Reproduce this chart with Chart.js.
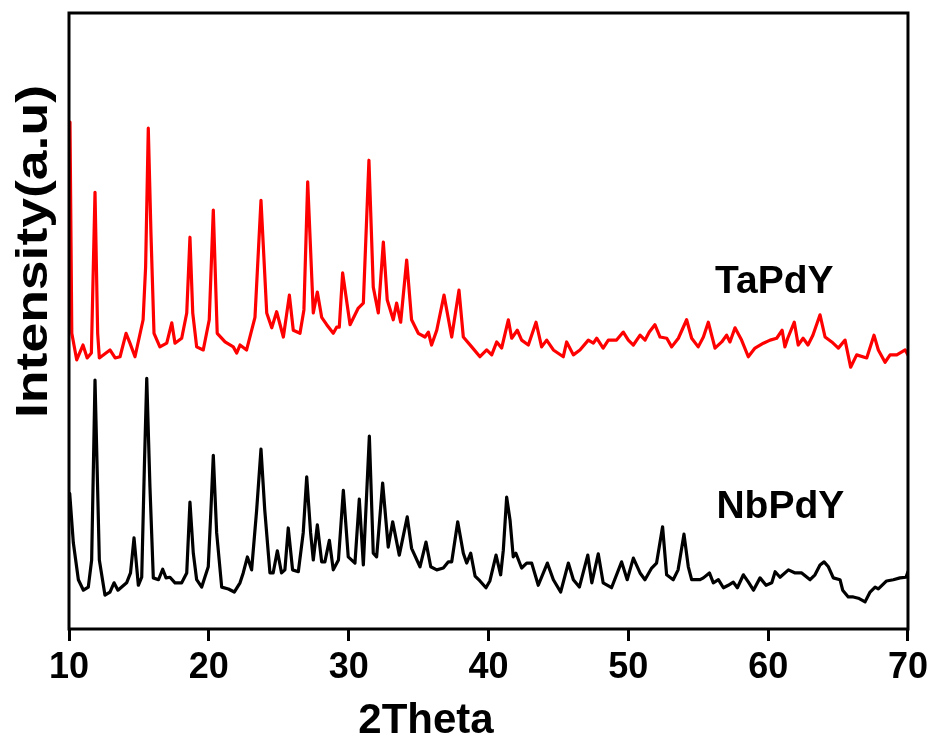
<!DOCTYPE html>
<html>
<head>
<meta charset="utf-8">
<script src="https://cdn.jsdelivr.net/npm/chart.js@4/dist/chart.umd.min.js"></script>
<style>
  html, body { margin: 0; padding: 0; background: #fff; }
  #wrap { width: 933px; height: 738px; }
</style>
</head>
<body>
<div id="wrap"><canvas id="xrd" width="933" height="738"></canvas></div>
<script>
// x ticks
const thetaTicks = [10, 20, 30, 40, 50, 60, 70];

// TaPdY (red, upper trace)
const taTheta = [10.07, 10.2, 10.55, 11.0, 11.3, 11.6, 11.86, 12.05, 12.17, 12.93, 13.3, 13.65, 14.08, 14.36, 14.72,
  15.3, 15.48, 15.67, 15.86, 16.08, 16.5, 16.99, 17.35, 17.58, 18.06, 18.42, 18.65, 18.85, 19.13, 19.6, 20.03,
  20.32, 20.6, 21.16, 21.75, 21.99, 22.23, 22.7, 23.3, 23.73, 24.14, 24.5, 24.85, 25.33, 25.76, 26.04, 26.52,
  26.8, 27.07, 27.47, 27.76, 28.07, 28.43, 28.9, 29.14, 29.33, 29.57, 30.1, 30.69, 31.05, 31.45, 31.76, 32.12,
  32.48, 32.76, 33.19, 33.43, 33.72, 34.15, 34.5, 34.98, 35.46, 35.7, 35.93, 36.3, 36.82, 37.37, 37.89, 38.2,
  38.8, 39.39, 39.87, 40.23, 40.59, 40.94, 41.42, 41.66, 42.06, 42.37, 42.85, 43.4, 43.8, 44.16, 44.64, 45.35,
  45.59, 46.07, 46.54, 47.14, 47.5, 47.74, 48.2, 48.57, 49.16, 49.64, 50.0, 50.36, 50.84, 51.2, 51.5, 51.9,
  52.27, 52.75, 53.1, 53.58, 54.17, 54.53, 55.0, 55.37, 55.72, 56.2, 56.68, 57.03, 57.27, 57.63, 58.1, 58.58,
  59.06, 59.66, 60.14, 60.61, 61.0, 61.2, 61.4, 61.87, 62.15, 62.5, 62.85, 63.2, 63.71, 64.07, 64.55, 65.02,
  65.5, 65.9, 66.33, 67.05, 67.57, 67.88, 68.36, 68.72, 69.2, 69.8, 70.0];
const taIntensity = [82.3, 48, 43.7, 46.1, 44, 44.8, 70.9, 48, 44, 45.3, 44, 44.2, 48, 46.4, 44.2,
  50.2, 58.8, 81.3, 64.3, 48, 45.8, 46.4, 49.7, 46.4, 47.2, 51.3, 63.6, 51.3, 45.8, 45.3, 50.2,
  68, 48, 46.6, 45.8, 44.8, 46.1, 45.3, 50.6, 69.6, 51.3, 48.9, 51.5, 47.4, 54.2, 48.5, 48,
  51.8, 72.6, 51.3, 54.7, 50.6, 49.4, 48, 49, 49, 57.8, 49.4, 52.1, 52.9, 76.1, 55.5, 51.3,
  62.8, 53.4, 50.2, 52.9, 49.8, 59.9, 50.2, 48, 47.4, 48.2, 46.1, 48.5, 54.2, 47.4, 55, 47.4,
  45.8, 44.2, 45.3, 44.5, 46.6, 45.6, 50.2, 47.2, 48.5, 46.9, 46.1, 49.8, 45.8, 46.9, 45.3, 44.2,
  46.6, 44.5, 45.3, 46.9, 46.4, 47.2, 45.6, 46.9, 46.9, 48.2, 46.9, 46.1, 47.7, 46.9, 48.2, 49.4,
  47.4, 47.2, 45.8, 47.2, 50.2, 47.2, 45.8, 47.4, 49.8, 45.6, 46.6, 47.7, 46.6, 48.9, 46.9, 44.2,
  45.6, 46.4, 46.9, 47.2, 48.5, 45.8, 47.2, 49.8, 46.1, 47.2, 46.1, 47.7, 51, 47.4, 46.6, 45.6,
  46.9, 42.5, 44.5, 44, 47.7, 45.3, 43.3, 44.5, 44.5, 45.3, 44.5];

// NbPdY (black, lower trace)
const nbTheta = [10.05, 10.31, 10.67, 11.03, 11.38, 11.62, 11.86, 12.17, 12.57, 12.93, 13.22, 13.5, 14.12, 14.4,
  14.65, 14.96, 15.2, 15.39, 15.56, 15.79, 16.03, 16.4, 16.7, 16.94, 17.22, 17.58, 18.06, 18.42, 18.65, 18.89,
  19.13, 19.49, 19.96, 20.15, 20.32, 20.56, 20.92, 21.4, 21.82, 22.23, 22.46, 22.76, 23.06, 23.42, 23.73, 24.0,
  24.37, 24.6, 24.9, 25.2, 25.44, 25.68, 25.99, 26.4, 26.75, 27.0, 27.28, 27.47, 27.76, 28.07, 28.3, 28.62,
  28.9, 29.27, 29.62, 29.97, 30.45, 30.76, 31.05, 31.48, 31.76, 32.0, 32.43, 32.83, 33.15, 33.62, 34.19, 34.5,
  35.1, 35.53, 35.87, 36.3, 36.77, 37.13, 37.37, 37.8, 38.2, 38.44, 38.73, 39.04, 39.39, 39.82, 40.1, 40.54,
  40.87, 41.06, 41.3, 41.54, 41.77, 41.96, 42.37, 42.73, 43.09, 43.56, 44.21, 44.64, 45.16, 45.71, 46.07, 46.5,
  47.1, 47.39, 47.85, 48.2, 48.8, 49.52, 49.92, 50.36, 50.84, 51.19, 51.67, 52.02, 52.45, 52.74, 53.21, 53.56,
  53.98, 54.29, 54.53, 55.13, 55.37, 55.8, 56.08, 56.44, 56.8, 57.15, 57.51, 57.8, 58.23, 58.59, 58.95, 59.42,
  59.85, 60.26, 60.5, 60.85, 61.45, 61.93, 62.4, 63.0, 63.35, 63.71, 64.0, 64.31, 64.66, 65.14, 65.33, 65.73,
  66.09, 66.45, 66.93, 67.29, 67.65, 67.88, 68.47, 68.95, 69.43, 69.86, 70.0];
const nbIntensity = [22, 14, 8, 6.3, 6.8, 11.2, 40.4, 11.2, 5.5, 6, 7.5, 6.3, 7.5, 9.1,
  14.8, 7.1, 8.4, 26.3, 40.7, 23, 8.3, 8, 9.7, 8.3, 8.4, 7.5, 7.5, 9.1, 20.6, 12.3,
  8, 6.8, 10.1, 19.3, 28.2, 15.6, 6.8, 6.5, 6, 7.5, 9.1, 11.7, 9.6, 19.3, 29.2, 19.3,
  9.1, 9.1, 12.7, 9.1, 9.6, 16.4, 9.6, 9.3, 15.6, 24.7, 15.6, 11.2, 16.9, 10.9, 10.9, 14.4,
  9.6, 11.2, 22.5, 11.7, 10.7, 21.1, 10.4, 31.3, 12.3, 11.7, 23.7, 13.3, 17.4, 12, 18.2, 13.1,
  10.1, 14.1, 10.1, 9.6, 9.9, 10.9, 10.9, 17.4, 12.3, 10.7, 12.3, 8.6, 7.8, 6.7, 7.8, 12,
  8.8, 12.8, 21.4, 17.7, 11.7, 12.3, 9.9, 10.7, 10.7, 7.1, 10.7, 8, 6, 10.7, 8, 6.8,
  12, 7.5, 12.2, 7.5, 6.7, 10.9, 8, 11.5, 9.1, 8, 9.9, 10.7, 16.6, 8.8, 8, 9.6,
  15.4, 10.1, 8, 8, 8.3, 9.1, 7.5, 8, 6.7, 7.1, 7.6, 6.7, 8.8, 7.6, 6.3, 8.3,
  7.1, 7.5, 9.3, 8.4, 9.6, 9.1, 9.1, 8, 8.8, 10.4, 10.9, 10.1, 8.3, 8, 6.3, 5.2,
  5.2, 5, 4.4, 6, 6.8, 6.5, 7.8, 8, 8.3, 8.4, 9.3];

// series names and where their labels sit (data units)
const seriesNames = ['TaPdY', 'NbPdY'];
const labelTheta = [56.2, 56.3];
const labelIntensity = [54.5, 18];

const FONT = "'Liberation Sans', Arial, sans-serif";

function toPoints(xs, ys) {
  return xs.map((x, i) => ({ x, y: ys[i] }));
}

// frame, axis titles and series labels
const decor = {
  id: 'decor',
  afterDraw(chart) {
    const { ctx, chartArea: a, scales } = chart;
    ctx.save();
    ctx.strokeStyle = '#000';
    ctx.lineWidth = 3;
    ctx.strokeRect(a.left, a.top, a.right - a.left, a.bottom - a.top);

    ctx.fillStyle = '#000';
    ctx.textAlign = 'left';
    ctx.textBaseline = 'alphabetic';
    ctx.font = `bold 39px ${FONT}`;
    seriesNames.forEach((name, i) => {
      ctx.fillText(name, scales.x.getPixelForValue(labelTheta[i]), scales.y.getPixelForValue(labelIntensity[i]));
    });

    // x title
    ctx.font = `bold 42px ${FONT}`;
    ctx.textAlign = 'center';
    ctx.fillText('2Theta', 426, 733);

    // y title, stretched a bit like the original
    ctx.font = `bold 45px ${FONT}`;
    const yt = 'Intensity(a.u)';
    const w = ctx.measureText(yt).width;
    ctx.translate(47, 251.5);
    ctx.rotate(-Math.PI / 2);
    ctx.scale(333 / w, 1);
    ctx.textAlign = 'center';
    ctx.fillText(yt, 0, 0);
    ctx.restore();
  }
};

const lineStyle = { borderWidth: 3.2, pointRadius: 0, tension: 0, borderJoinStyle: 'round', borderCapStyle: 'round' };

new Chart(document.getElementById('xrd'), {
  type: 'line',
  data: {
    datasets: [
      Object.assign({ label: seriesNames[1], data: toPoints(nbTheta, nbIntensity), borderColor: '#000' }, lineStyle),
      Object.assign({ label: seriesNames[0], data: toPoints(taTheta, taIntensity), borderColor: '#ff0000' }, lineStyle)
    ]
  },
  options: {
    responsive: false,
    animation: false,
    layout: { padding: { top: 13, right: 25, left: 0, bottom: 0 } },
    plugins: { legend: { display: false }, tooltip: { enabled: false } },
    scales: {
      x: {
        type: 'linear',
        min: 10,
        max: 70,
        afterBuildTicks: s => { s.ticks = thetaTicks.map(v => ({ value: v })); },
        afterFit: s => { s.height = 109; },
        grid: { drawOnChartArea: false, drawTicks: true, tickLength: 12, color: '#000', lineWidth: 3 },
        border: { display: false },
        ticks: { color: '#000', font: { family: FONT, size: 36, weight: 'bold' }, padding: 5, maxRotation: 0 }
      },
      y: {
        min: 0,
        max: 100,
        afterFit: s => { s.width = 69; },
        grid: { display: false },
        border: { display: false },
        ticks: { display: false }
      }
    }
  },
  plugins: [decor]
});
</script>
</body>
</html>
